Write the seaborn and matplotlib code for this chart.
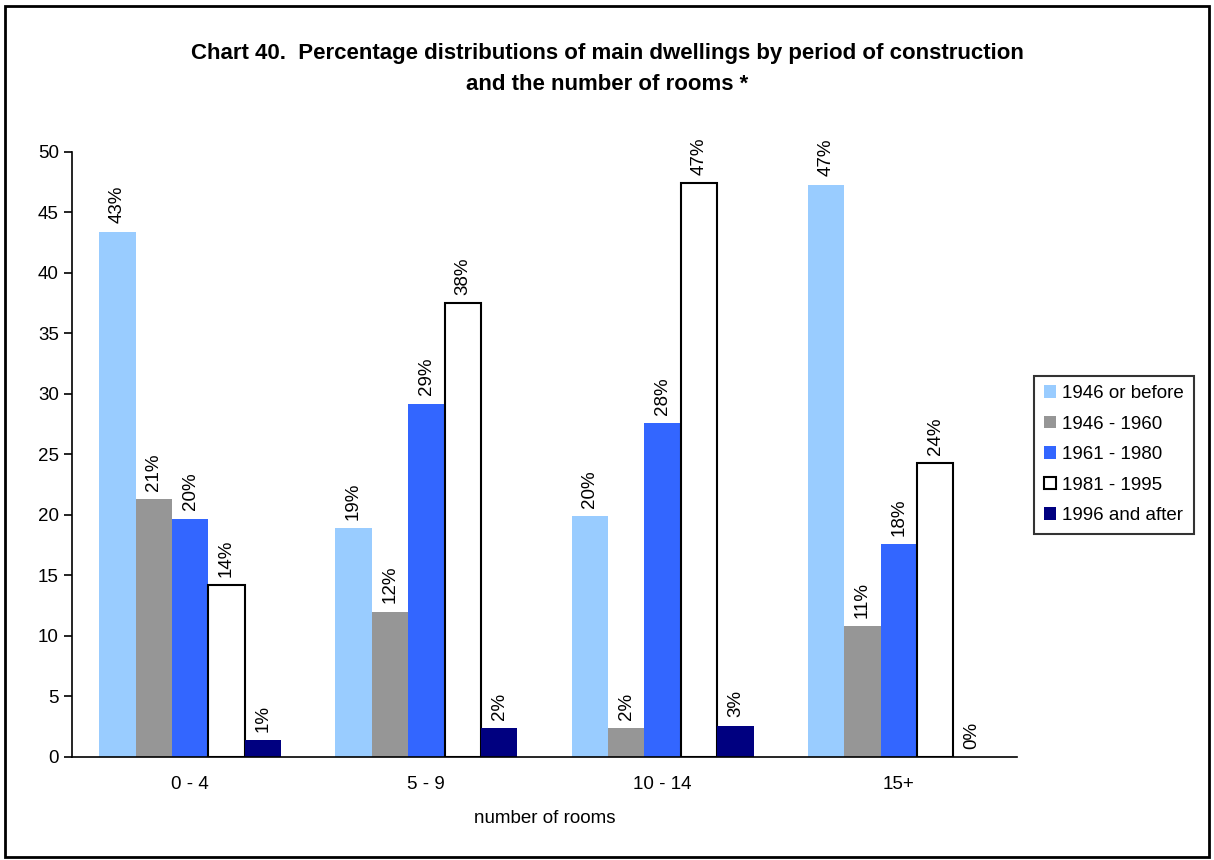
import pandas as pd
import matplotlib.pyplot as plt
import seaborn as sns
from matplotlib.patches import Rectangle, Patch

rooms = ["0 - 4", "5 - 9", "10 - 14", "15+"]
periods = ["1946 or before", "1946 - 1960", "1961 - 1980", "1981 - 1995", "1996 and after"]
before_1946 = [43.4, 18.9, 19.9, 47.3]
p1946_1960 = [21.3, 12.0, 2.4, 10.8]
p1961_1980 = [19.7, 29.2, 27.6, 17.6]
p1981_1995 = [14.2, 37.5, 47.4, 24.3]
after_1996 = [1.4, 2.4, 2.6, 0.0]
colors = ["#99CCFF", "#969696", "#3366FF", "#FFFFFF", "#000080"]

series = [before_1946, p1946_1960, p1961_1980, p1981_1995, after_1996]
df = pd.DataFrame({
    "rooms": rooms * len(periods),
    "period": [p for p in periods for _ in rooms],
    "value": [v for s in series for v in s],
})

sns.set_style("white")
plt.rcParams['font.family'] = ['Liberation Sans', 'DejaVu Sans']
plt.rcParams.update({"text.color": "black", "axes.labelcolor": "black",
                     "xtick.color": "black", "ytick.color": "black"})

fs = 13.5
fig = plt.figure(figsize=(12.14, 8.6), dpi=100)
ax = fig.add_axes([0.0593, 0.1198, 0.7784, 0.7035])

sns.barplot(data=df, x="rooms", y="value", hue="period", hue_order=periods,
            palette=colors, width=0.77, ax=ax, legend=False, saturation=1)

for i, cont in enumerate(ax.containers):
    for bar in cont:
        if periods[i] == "1981 - 1995":
            bar.set_edgecolor("black")
            bar.set_linewidth(1.5)
        else:
            bar.set_edgecolor("none")
    labels = [f"{round(v)}%" for v in series[i]]
    for bar, lab in zip(cont, labels):
        ax.annotate(lab, (bar.get_x() + bar.get_width() / 2, bar.get_height()),
                    xytext=(0, 6), textcoords="offset points", rotation=90,
                    ha="center", va="bottom", fontsize=fs)

ax.set_ylim(0, 50)
ax.set_yticks(range(0, 51, 5))
ax.set_xlim(-0.5, 3.5)
ax.set_xticks([-0.5, 0.5, 1.5, 2.5, 3.5], minor=True)
ax.tick_params(axis="x", which="major", length=0, labelsize=fs, pad=14)
ax.tick_params(axis="x", which="minor", length=6, width=1.2, direction="out", color="black")
ax.tick_params(axis="y", length=6, width=1.2, direction="out", color="black", labelsize=fs, left=True)
ax.set_xlabel("number of rooms", fontsize=fs, labelpad=12)
ax.set_ylabel("")
sns.despine(ax=ax, top=True, right=True)
for s in ["left", "bottom"]:
    ax.spines[s].set_color("black")
    ax.spines[s].set_linewidth(1.2)

fig.suptitle("Chart 40.  Percentage distributions of main dwellings by period of construction\nand the number of rooms *",
             fontsize=16, fontweight="bold", y=0.950, va="top", linespacing=1.6)

handles = [Patch(facecolor=c, edgecolor="black" if c == "#FFFFFF" else c, linewidth=1.5 if c == "#FFFFFF" else 0)
           for c in colors]
leg = fig.legend(handles, periods, loc="upper left", bbox_to_anchor=(0.852, 0.563),
                 fontsize=fs, frameon=True, fancybox=False, handlelength=0.65, handleheight=0.65,
                 handletextpad=0.35, labelspacing=0.72, borderpad=0.5, borderaxespad=0)
leg.get_frame().set_edgecolor("black")
leg.get_frame().set_linewidth(1.5)

fig.patches.append(Rectangle((0.004, 0.003), 0.992, 0.99, transform=fig.transFigure,
                             fill=False, edgecolor="black", linewidth=2))

fig.savefig("out.png", dpi=100)
